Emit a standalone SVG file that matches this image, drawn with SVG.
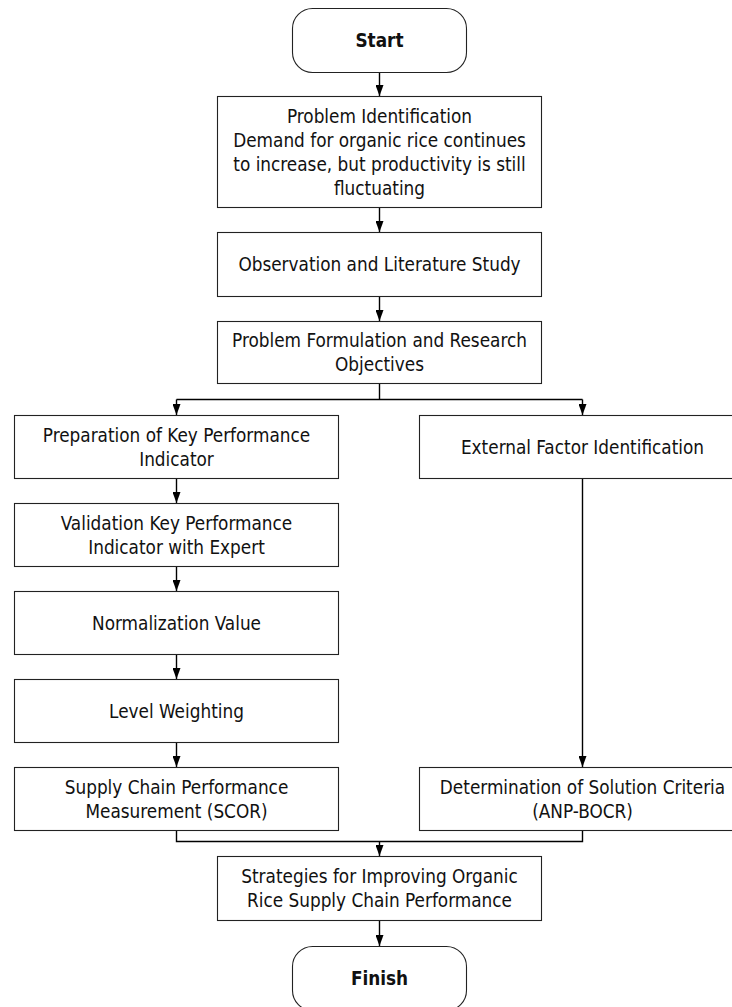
<svg xmlns="http://www.w3.org/2000/svg" width="732" height="1007" viewBox="0 0 732 1007">
<defs>
<marker id="ah" markerWidth="11" markerHeight="8" refX="11" refY="4" orient="auto" markerUnits="userSpaceOnUse" viewBox="0 0 11 8">
<path d="M0,0 L11,4 L0,8 Z" fill="#000"/>
</marker>
</defs>
<style>
.box{fill:#fff;stroke:#222;stroke-width:1.1}
.t{font-family:"DejaVu Sans Condensed","DejaVu Sans",sans-serif;font-size:18.8px;fill:#111;text-anchor:middle;font-stretch:condensed}
.b{font-weight:bold}
.c{fill:none;stroke:#000;stroke-width:1.4}
</style>
<rect width="732" height="1007" fill="#fff"/>
<g id="connectors">
<path class="c" d="M379.5,72 V96" marker-end="url(#ah)"/>
<path class="c" d="M379.5,207 V232" marker-end="url(#ah)"/>
<path class="c" d="M379.5,296 V321" marker-end="url(#ah)"/>
<path class="c" d="M379.5,383 V399.5"/>
<path class="c" d="M176.5,399.5 H582.5"/>
<path class="c" d="M176.5,399.5 V415" marker-end="url(#ah)"/>
<path class="c" d="M582.5,399.5 V415" marker-end="url(#ah)"/>
<path class="c" d="M176.5,478 V503" marker-end="url(#ah)"/>
<path class="c" d="M176.5,566 V591" marker-end="url(#ah)"/>
<path class="c" d="M176.5,654 V679" marker-end="url(#ah)"/>
<path class="c" d="M176.5,742 V767" marker-end="url(#ah)"/>
<path class="c" d="M582.5,478 V767" marker-end="url(#ah)"/>
<path class="c" d="M176.5,830 V841.5 H582.5 V830"/>
<path class="c" d="M379.5,841.5 V856" marker-end="url(#ah)"/>
<path class="c" d="M379.5,920 V946" marker-end="url(#ah)"/>
</g>
<g id="start">
<rect class="box" x="292.5" y="8.5" width="174" height="64" rx="20" ry="20"/>
<text class="t b" x="379.5" y="46.5">Start</text>
</g>
<g id="problem-identification">
<rect class="box" x="217.5" y="96.5" width="324" height="111"/>
<text class="t" x="379.5" y="123">Problem Identification</text>
<text class="t" x="379.5" y="147">Demand for organic rice continues</text>
<text class="t" x="379.5" y="171">to increase, but productivity is still</text>
<text class="t" x="379.5" y="195">fluctuating</text>
</g>
<g id="observation">
<rect class="box" x="217.5" y="232.5" width="324" height="64"/>
<text class="t" x="379.5" y="271">Observation and Literature Study</text>
</g>
<g id="problem-formulation">
<rect class="box" x="217.5" y="321.5" width="324" height="62"/>
<text class="t" x="379.5" y="346.5">Problem Formulation and Research</text>
<text class="t" x="379.5" y="370.5">Objectives</text>
</g>
<g id="kpi-preparation">
<rect class="box" x="14.5" y="415.5" width="324" height="63"/>
<text class="t" x="176.5" y="441.5">Preparation of Key Performance</text>
<text class="t" x="176.5" y="465.5">Indicator</text>
</g>
<g id="external-factor">
<rect class="box" x="419.5" y="415.5" width="326" height="63"/>
<text class="t" x="582.5" y="453.5">External Factor Identification</text>
</g>
<g id="kpi-validation">
<rect class="box" x="14.5" y="503.5" width="324" height="63"/>
<text class="t" x="176.5" y="529.5">Validation Key Performance</text>
<text class="t" x="176.5" y="553.5">Indicator with Expert</text>
</g>
<g id="normalization">
<rect class="box" x="14.5" y="591.5" width="324" height="63"/>
<text class="t" x="176.5" y="629.5">Normalization Value</text>
</g>
<g id="level-weighting">
<rect class="box" x="14.5" y="679.5" width="324" height="63"/>
<text class="t" x="176.5" y="717.5">Level Weighting</text>
</g>
<g id="scor">
<rect class="box" x="14.5" y="767.5" width="324" height="63"/>
<text class="t" x="176.5" y="793.5">Supply Chain Performance</text>
<text class="t" x="176.5" y="817.5">Measurement (SCOR)</text>
</g>
<g id="solution-criteria">
<rect class="box" x="419.5" y="767.5" width="326" height="63"/>
<text class="t" x="582.5" y="793.5">Determination of Solution Criteria</text>
<text class="t" x="582.5" y="817.5">(ANP-BOCR)</text>
</g>
<g id="strategies">
<rect class="box" x="217.5" y="856.5" width="324" height="64"/>
<text class="t" x="379.5" y="882.5">Strategies for Improving Organic</text>
<text class="t" x="379.5" y="906.5">Rice Supply Chain Performance</text>
</g>
<g id="finish">
<rect class="box" x="292.5" y="946.5" width="174" height="64" rx="20" ry="20"/>
<text class="t b" x="379.5" y="985">Finish</text>
</g>
</svg>
